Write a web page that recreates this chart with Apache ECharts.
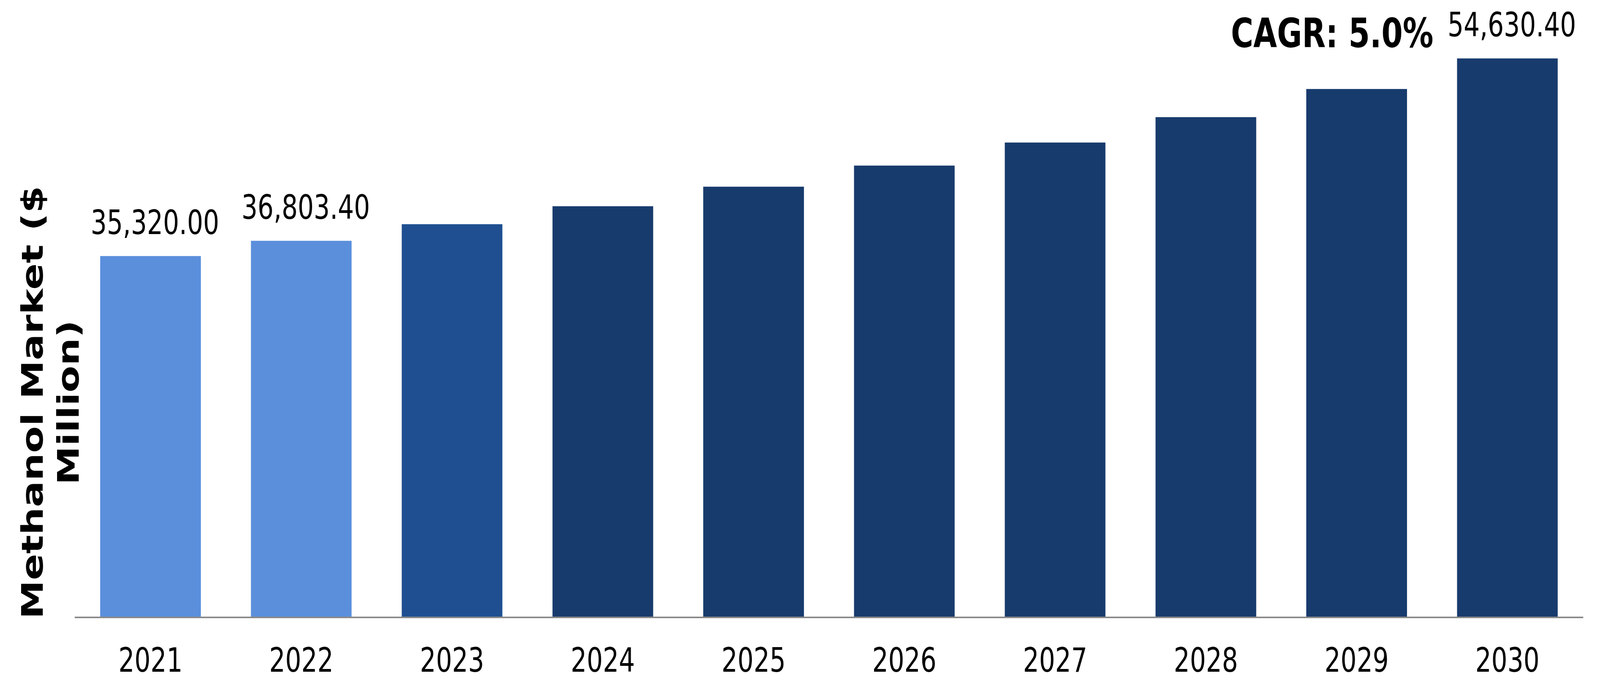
<!DOCTYPE html>
<html>
<head>
<meta charset="utf-8">
<script src="https://cdn.jsdelivr.net/npm/echarts@6/dist/echarts.min.js"></script>
<style>
html,body{margin:0;padding:0;background:#ffffff;overflow:hidden;}
#chart{width:5388px;height:1753px;transform-origin:0 0;}
</style>
</head>
<body>
<div id="chart"></div>
<script>
// ---- data ----
const categories = ['2021','2022','2023','2024','2025','2026','2027','2028','2029','2030'];
const marketValues = [35320.00, 36803.40, 38430, 40190, 42100, 44160, 46410, 48900, 51650, 54630.40];
const labeledYears = ['2021','2022','2030'];
const yAxisTitle = 'Methanol Market ($\nMillion)';
const cagrText = 'CAGR: 5.0%';

// ---- styles ----
const FONT = '"DejaVu Sans", Verdana, sans-serif';
const barColors = ['#5B8FDC','#5B8FDC','#1F4F91','#183B6D','#183B6D','#183B6D','#183B6D','#183B6D','#183B6D','#183B6D'];

// fit the 5388x1753 design into whatever window the page is opened in
const W = 5388, H = 1753;
const el = document.getElementById('chart');
const sx = Math.min(1, (window.innerWidth || W) / W);
const sy = Math.min(1, (window.innerHeight || H) / H);
if (sx !== 1 || sy !== 1) el.style.transform = 'scale(' + sx + ',' + sy + ')';

const fmt = v => v.toLocaleString('en-US', {minimumFractionDigits: 2, maximumFractionDigits: 2});

const seriesData = marketValues.map((v, i) => ({
  value: v,
  itemStyle: { color: barColors[i] },
  label: { show: labeledYears.indexOf(categories[i]) >= 0 }
}));

const chart = echarts.init(el, null, {renderer: 'canvas', width: W, height: H});
chart.setOption({
  animation: false,
  backgroundColor: '#ffffff',
  grid: { left: 253, right: 58, top: 9, bottom: H - 1580, containLabel: false },
  xAxis: {
    type: 'category',
    data: categories,
    axisLine: { show: true, lineStyle: { color: '#898989', width: 4 } },
    axisTick: { show: false },
    axisLabel: { color: '#000000', fontFamily: FONT, fontSize: 85, margin: 74 },
    z: 5
  },
  yAxis: {
    type: 'value',
    min: 0,
    max: 60000,
    show: false,
    splitLine: { show: false }
  },
  series: [{
    type: 'bar',
    data: seriesData,
    barWidth: 339,
    label: {
      position: 'top',
      distance: 36,
      offset: [15, 0],
      color: '#000000',
      fontFamily: FONT,
      fontSize: 85,
      formatter: p => fmt(p.value)
    }
  }],
  graphic: [
    {
      type: 'text',
      left: 4145,
      top: 125 - 0.797 * 103,
      style: {
        text: cagrText,
        fill: '#000000',
        font: 'bold 103px ' + FONT
      }
    },
    {
      type: 'text',
      x: 179,
      y: 1030,
      rotation: Math.PI / 2,
      style: {
        text: yAxisTitle,
        fill: '#000000',
        font: 'bold 100px ' + FONT,
        align: 'center',
        verticalAlign: 'middle',
        lineHeight: 121
      }
    }
  ]
});
</script>
</body>
</html>
